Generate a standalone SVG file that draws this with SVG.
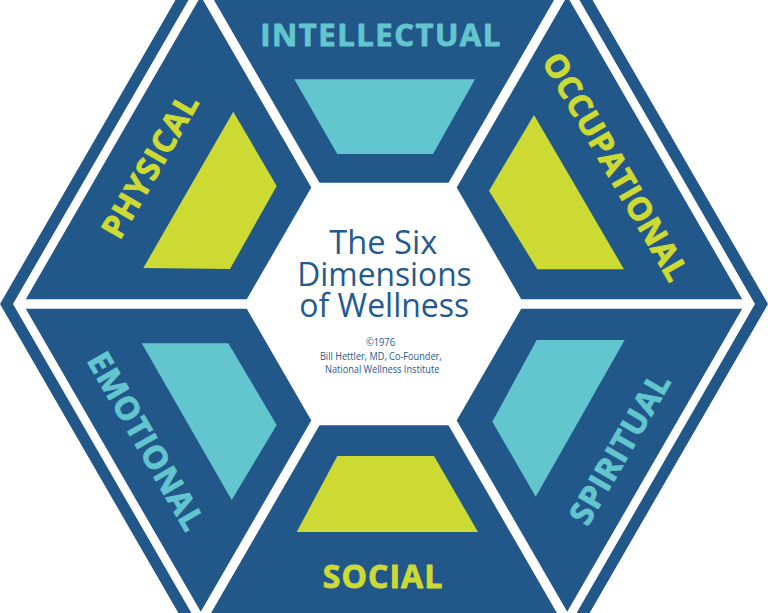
<svg xmlns="http://www.w3.org/2000/svg" width="768" height="613" viewBox="0 0 768 613">
<style>
.blue{fill:#22578A}
.teal{fill:#63C6CE}
.lime{fill:#CDDA33}
.lbl{font-family:"Open Sans","Noto Sans","DejaVu Sans",sans-serif;font-weight:700;text-anchor:middle;stroke-width:0.9;stroke-linejoin:round}
.lbl-t{fill:#63C6CE;stroke:#63C6CE}
.lbl-l{fill:#CDDA33;stroke:#CDDA33}
.title{font-family:"Open Sans","Noto Sans",sans-serif;font-weight:400;fill:#245A8D;text-anchor:middle;font-size:32px}
.small{font-family:"Open Sans","Noto Sans",sans-serif;font-weight:400;fill:#245A8D;text-anchor:middle;font-size:11px}
</style>
<defs>
<polygon id="seg" points="209,-8.6 559,-8.6 448.5,182.8 319.5,182.8"/>
</defs>
<rect width="768" height="613" fill="#FFFFFF"/>
<g id="frame">
<path class="blue" fill-rule="evenodd" d="M768,304 L576,636.6 L192,636.6 L0,304 L192,-28.6 L576,-28.6 Z M755,304 L569.5,625.3 L198.5,625.3 L13,304 L198.5,-17.3 L569.5,-17.3 Z"/>
</g>
<g id="intellectual">
<use href="#seg" class="blue"/>
<polygon class="teal" points="294.3,79.3 475,79.3 433,154 337.3,154"/>
<text class="lbl lbl-t" x="380.3" y="46" font-size="31" textLength="240">INTELLECTUAL</text>
</g>
<g id="occupational">
<use href="#seg" class="blue" transform="rotate(60 384 304)"/>
<polygon class="lime" points="534,115 624,269.3 537.3,269.3 489,190.7"/>
<text class="lbl lbl-l" font-size="32" textLength="257" transform="translate(615.5 166.7) rotate(60)" x="0" y="11.4">OCCUPATIONAL</text>
</g>
<g id="spiritual">
<use href="#seg" class="blue" transform="rotate(120 384 304)"/>
<polygon class="teal" points="536.7,340 624.7,340 535.7,496.7 492.3,421.7"/>
<text class="lbl lbl-t" font-size="32" textLength="168" transform="translate(619.7 448.7) rotate(-60)" x="0" y="11.4">SPIRITUAL</text>
</g>
<g id="social">
<use href="#seg" class="blue" transform="rotate(180 384 304)"/>
<polygon class="lime" points="337.3,456 434,456 478,532 296.7,532"/>
<text class="lbl lbl-l" x="382.5" y="588" font-size="32" textLength="119.6">SOCIAL</text>
</g>
<g id="emotional">
<use href="#seg" class="blue" transform="rotate(240 384 304)"/>
<polygon class="teal" points="141.7,343.3 228.3,343.3 276.7,425 231.7,500"/>
<text class="lbl lbl-t" font-size="32" textLength="199.5" transform="translate(146 441) rotate(60)" x="0" y="11.4">EMOTIONAL</text>
</g>
<g id="physical">
<use href="#seg" class="blue" transform="rotate(300 384 304)"/>
<polygon class="lime" points="233.3,111.7 276.7,186 230,269 143.3,268"/>
<text class="lbl lbl-l" font-size="32" textLength="160" transform="translate(149.8 166) rotate(-60)" x="0" y="11.4">PHYSICAL</text>
</g>
<g id="center">
<text class="title" x="383.3" y="254" textLength="108" lengthAdjust="spacingAndGlyphs">The Six</text>
<text class="title" x="384.5" y="286" textLength="174.4" lengthAdjust="spacingAndGlyphs">Dimensions</text>
<text class="title" x="384.3" y="317.3" textLength="170" lengthAdjust="spacingAndGlyphs">of Wellness</text>
<text class="small" x="380.5" y="346" textLength="29" lengthAdjust="spacingAndGlyphs">©1976</text>
<text class="small" x="380.8" y="360" textLength="121.7" lengthAdjust="spacingAndGlyphs">Bill Hettler, MD, Co-Founder,</text>
<text class="small" x="382.2" y="373.3" textLength="114.3" lengthAdjust="spacingAndGlyphs">National Wellness Institute</text>
</g>
<g id="connectors"></g>
</svg>
